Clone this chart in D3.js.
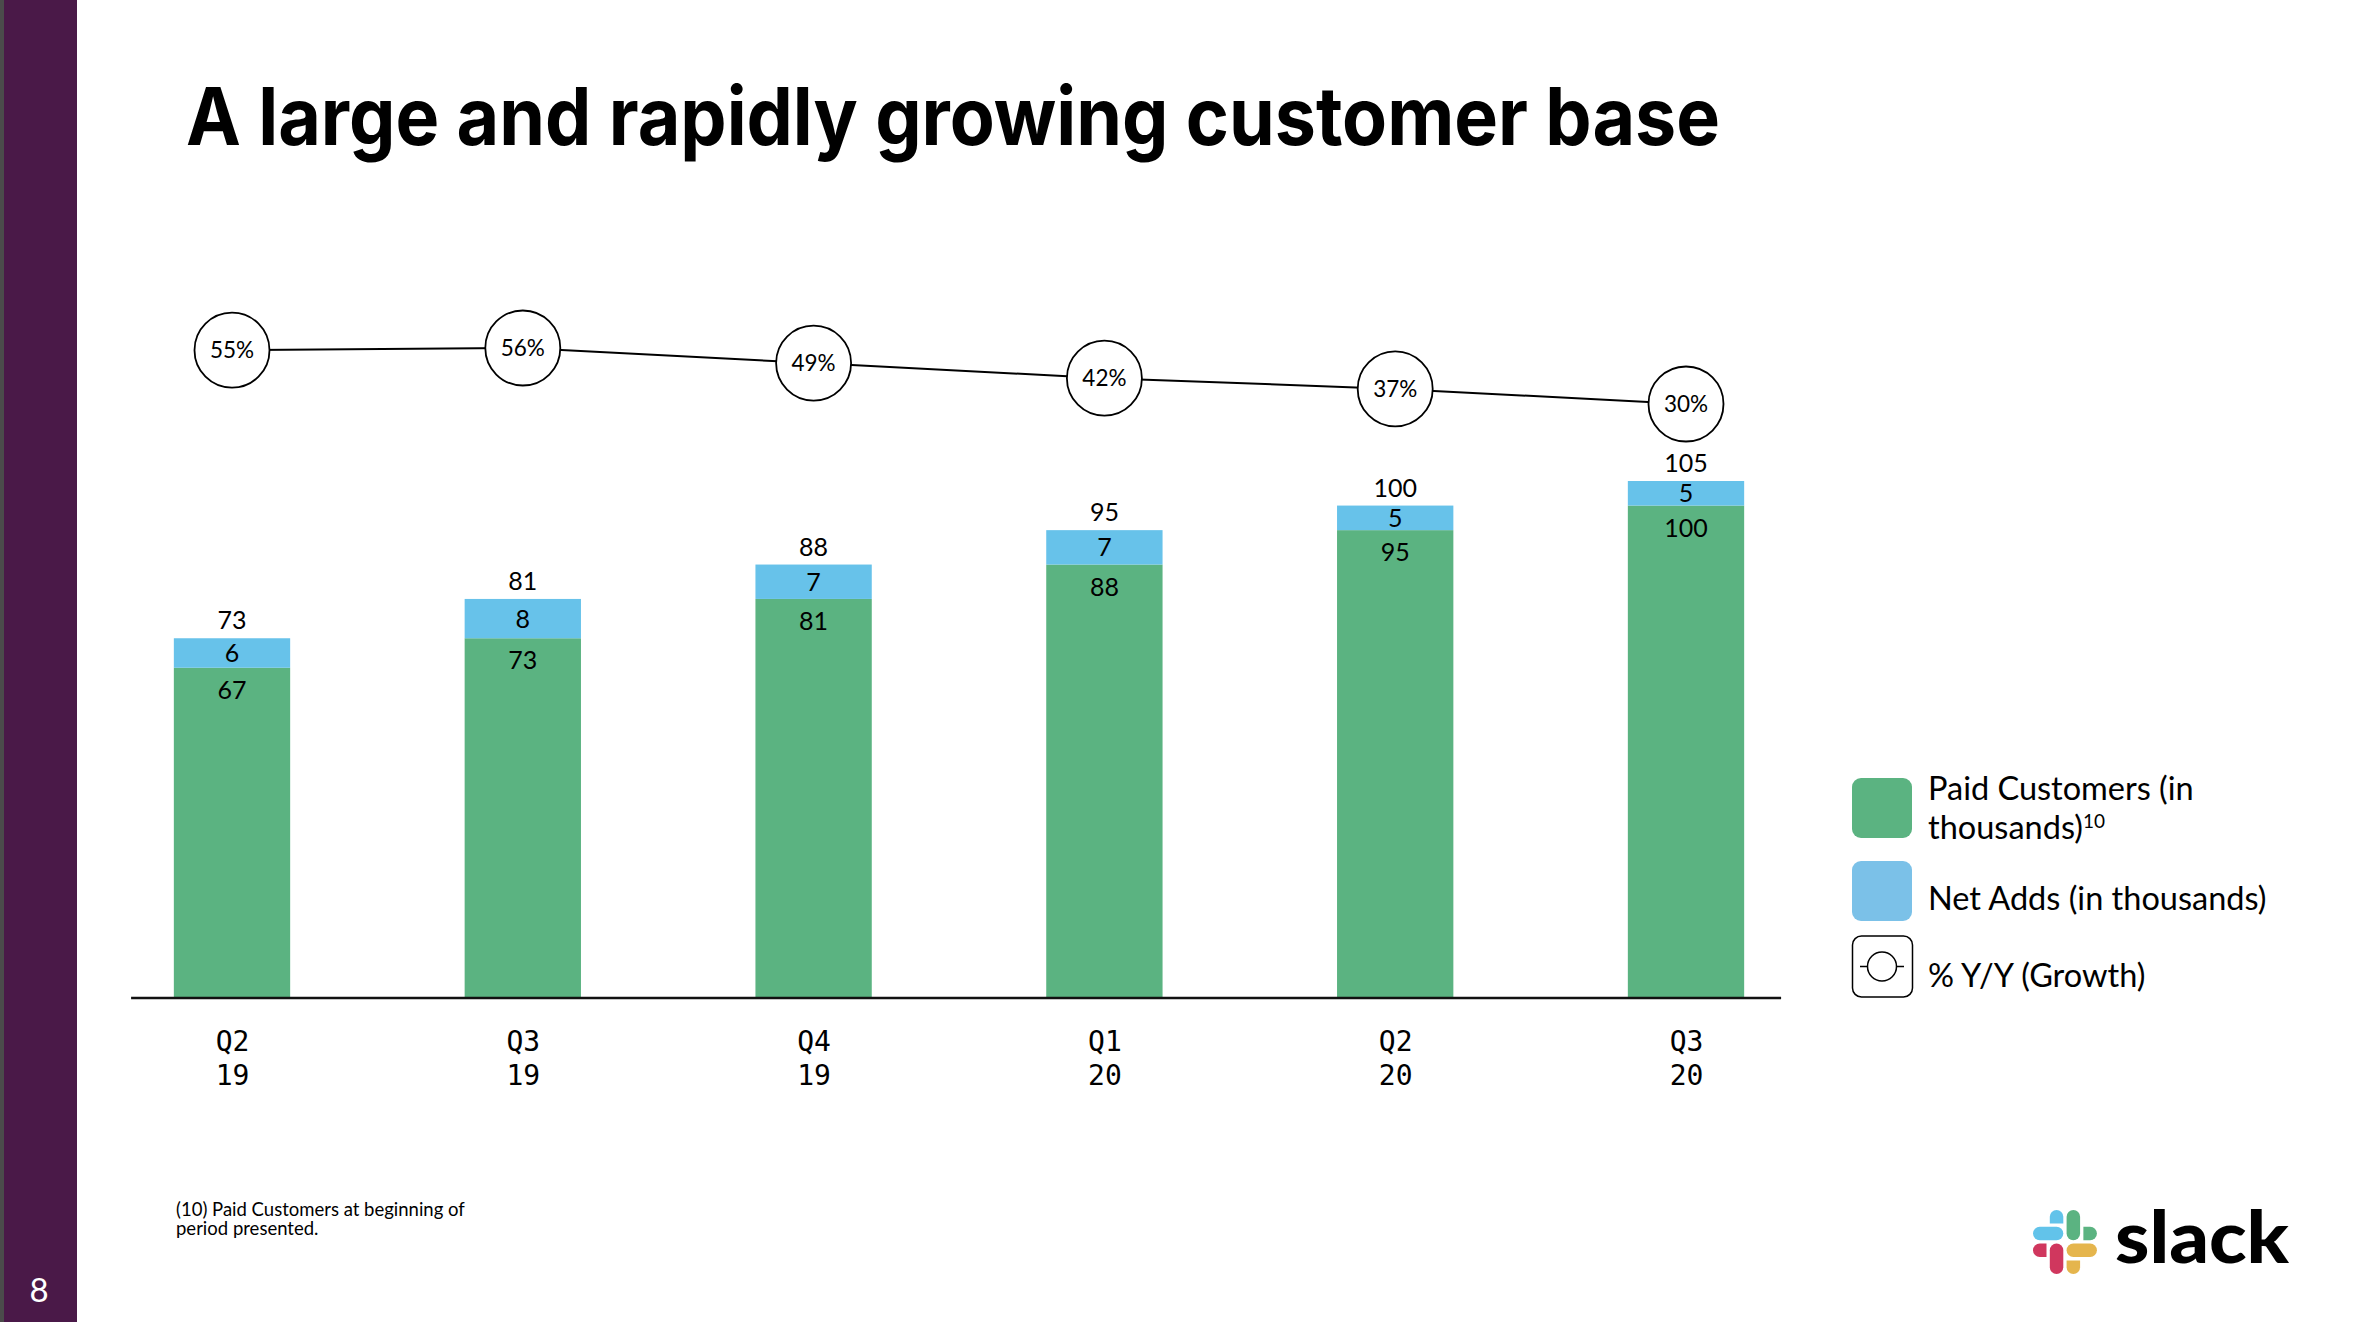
<!DOCTYPE html>
<html>
<head>
<meta charset="utf-8">
<script src="https://cdn.jsdelivr.net/npm/d3@7"></script>
<style>
body { margin: 0; background: #fff; }
svg { display: block; }
</style>
</head>
<body>
<div id="chart"></div>
<script>
// values
const quarters = ["Q2 19", "Q3 19", "Q4 19", "Q1 20", "Q2 20", "Q3 20"];
const paidCustomers = [67, 73, 81, 88, 95, 100];
const netAdds = [6, 8, 7, 7, 5, 5];
const totals = [73, 81, 88, 95, 100, 105];
const growth = [55, 56, 49, 42, 37, 30];

const legendItems = ["Paid Customers (in", "Net Adds (in thousands)", "% Y/Y (Growth)"];

const W = 2358, H = 1322;
const green = "#5bb381", blue = "#67c2ea";
const font = "Lato, 'Noto Sans', sans-serif";

const rows = quarters.map((q, i) => ({
    q, paid: paidCustomers[i], adds: netAdds[i], total: totals[i], growth: growth[i]
}));

const svg = d3.select("#chart")
    .append("svg")
    .attr("width", W)
    .attr("height", H);

// side band
svg.append("rect").attr("x", 0).attr("y", 0).attr("width", 77).attr("height", H).attr("fill", "#4a1948");
svg.append("rect").attr("x", 0).attr("y", 0).attr("width", 4).attr("height", H).attr("fill", "#4b4b4b");
svg.append("text")
    .attr("x", 39).attr("y", 1302)
    .attr("text-anchor", "middle")
    .style("font-family", font).style("font-size", "33px").style("fill", "#fff")
    .text("8");

// title
svg.append("text")
    .attr("x", 186).attr("y", 145)
    .attr("textLength", 1534).attr("lengthAdjust", "spacingAndGlyphs")
    .style("font-family", "Inter, 'Liberation Sans', sans-serif")
    .style("font-weight", "700").style("font-size", "80px").style("fill", "#000")
    .text("A large and rapidly growing customer base");

// scales
const x = d3.scalePoint().domain(quarters).range([232, 1686]);
const bw = x.step() * 0.4;
const y = d3.scaleLinear().domain([0, 105]).range([997, 481]);
const g = d3.scaleLinear().domain([30, 56]).range([404, 348]);

// bars
svg.selectAll(".paid")
    .data(rows)
    .enter()
    .append("rect")
    .attr("class", "paid")
    .attr("x", d => x(d.q) - bw / 2)
    .attr("y", d => y(d.paid))
    .attr("width", bw)
    .attr("height", d => y(0) - y(d.paid))
    .style("fill", green);

svg.selectAll(".adds")
    .data(rows)
    .enter()
    .append("rect")
    .attr("class", "adds")
    .attr("x", d => x(d.q) - bw / 2)
    .attr("y", d => y(d.paid + d.adds))
    .attr("width", bw)
    .attr("height", d => y(d.paid) - y(d.paid + d.adds))
    .style("fill", blue);

// labels
const lbl = sel => sel
    .attr("text-anchor", "middle")
    .style("font-family", font).style("font-size", "25px").style("fill", "#000");

svg.selectAll(".total-label")
    .data(rows).enter().append("text")
    .attr("x", d => x(d.q))
    .attr("y", d => y(d.paid + d.adds) - 9)
    .call(lbl)
    .text(d => d.total);

svg.selectAll(".adds-label")
    .data(rows).enter().append("text")
    .attr("x", d => x(d.q))
    .attr("y", d => (y(d.paid) + y(d.paid + d.adds)) / 2 + 9)
    .call(lbl)
    .text(d => d.adds);

svg.selectAll(".paid-label")
    .data(rows).enter().append("text")
    .attr("x", d => x(d.q))
    .attr("y", d => y(d.paid) + 31)
    .call(lbl)
    .text(d => d.paid);

// x axis
const xAxis = d3.axisBottom(x).tickSize(0).tickSizeOuter(0);
const ax = svg.append("g")
    .attr("transform", "translate(0," + y(0) + ")")
    .call(xAxis);
ax.select(".domain").remove();
ax.selectAll(".tick text")
    .attr("dy", null).attr("y", null)
    .style("font-family", "'DejaVu Sans Mono', monospace")
    .style("font-size", "28px").style("fill", "#000")
    .each(function (d) {
        const parts = d.split(" ");
        const t = d3.select(this).text(null);
        t.append("tspan").attr("x", 0).attr("y", 54).text(parts[0]);
        t.append("tspan").attr("x", 0).attr("y", 88).text(parts[1]);
    });

svg.append("line")
    .attr("x1", x(quarters[0]) - x.step() * 0.347)
    .attr("x2", x(quarters[quarters.length - 1]) + x.step() * 0.327)
    .attr("y1", y(0) + 1).attr("y2", y(0) + 1)
    .style("stroke", "#111").style("stroke-width", 2.5);

// growth line with circles
const line = d3.line().x(d => x(d.q)).y(d => g(d.growth));
svg.append("path")
    .datum(rows)
    .attr("d", line)
    .style("fill", "none").style("stroke", "#000").style("stroke-width", 2);

svg.selectAll(".bubble")
    .data(rows).enter().append("circle")
    .attr("cx", d => x(d.q)).attr("cy", d => g(d.growth)).attr("r", 37.5)
    .style("fill", "#fff").style("stroke", "#000").style("stroke-width", 1.8);

svg.selectAll(".bubble-label")
    .data(rows).enter().append("text")
    .attr("x", d => x(d.q)).attr("y", d => g(d.growth) + 8)
    .attr("text-anchor", "middle")
    .style("font-family", font).style("font-size", "22.5px").style("fill", "#000")
    .text(d => d.growth + "%");

// legend
const lg = svg.append("g").attr("transform", "translate(1852,778)");
lg.append("rect").attr("x", 0).attr("y", 0).attr("width", 60).attr("height", 60).attr("rx", 9).style("fill", green);
lg.append("rect").attr("x", 0).attr("y", 83).attr("width", 60).attr("height", 60).attr("rx", 9).style("fill", "#7bc1e8");
lg.append("rect").attr("x", 0.5).attr("y", 158).attr("width", 60).attr("height", 61).attr("rx", 9)
    .style("fill", "#fff").style("stroke", "#000").style("stroke-width", 1.5);
lg.append("line").attr("x1", 8).attr("x2", 52).attr("y1", 188.5).attr("y2", 188.5)
    .style("stroke", "#000").style("stroke-width", 1.5);
lg.append("circle").attr("cx", 30).attr("cy", 188.5).attr("r", 14.5)
    .style("fill", "#fff").style("stroke", "#000").style("stroke-width", 1.5);

const legText = sel => sel.style("font-family", font).style("font-size", "32.5px").style("fill", "#000");
lg.append("text").attr("x", 76).attr("y", 22).call(legText).text(legendItems[0]);
const l2 = lg.append("text").attr("x", 76).attr("y", 61).call(legText);
l2.append("tspan").text("thousands)");
l2.append("tspan").attr("dy", -11).style("font-size", "19px").text("10");
lg.append("text").attr("x", 76).attr("y", 132).call(legText).text(legendItems[1]);
lg.append("text").attr("x", 76).attr("y", 209).call(legText).text(legendItems[2]);

// footnote
const fn = svg.append("text")
    .style("font-family", font).style("font-size", "18.5px").style("fill", "#000");
fn.append("tspan").attr("x", 176).attr("y", 1216).text("(10) Paid Customers at beginning of");
fn.append("tspan").attr("x", 176).attr("y", 1235).text("period presented.");

// slack logo
const logo = svg.append("g").attr("transform", "translate(2033,1210)");
const t = 13.5, r = t / 2, c1 = 16.8, c2 = 33.6, c3 = 50.4, L = c1 + t;
logo.append("rect").attr("x", 0).attr("y", c1).attr("width", L).attr("height", t).attr("rx", r).style("fill", "#62c3ea");
logo.append("path").attr("d", `M${c1},${t} V${r} A${r},${r} 0 0 1 ${c1 + t},${r} V${t} Z`).style("fill", "#62c3ea");
logo.append("rect").attr("x", c2).attr("y", 0).attr("width", t).attr("height", L).attr("rx", r).style("fill", "#5bb381");
logo.append("path").attr("d", `M${c3},${c1} H${c3 + r} A${r},${r} 0 0 1 ${c3 + r},${c1 + t} H${c3} Z`).style("fill", "#5bb381");
logo.append("path").attr("d", `M${t},${c2} H${r} A${r},${r} 0 0 0 ${r},${c2 + t} H${t} Z`).style("fill", "#d0375e");
logo.append("rect").attr("x", c1).attr("y", c2).attr("width", t).attr("height", L).attr("rx", r).style("fill", "#d0375e");
logo.append("rect").attr("x", c2).attr("y", c2).attr("width", L).attr("height", t).attr("rx", r).style("fill", "#e5b54d");
logo.append("path").attr("d", `M${c2},${c3} V${c3 + r} A${r},${r} 0 0 0 ${c2 + t},${c3 + r} V${c3} Z`).style("fill", "#e5b54d");

svg.append("text")
    .attr("x", 2115).attr("y", 1263)
    .attr("textLength", 174).attr("lengthAdjust", "spacingAndGlyphs")
    .style("font-family", "Lato, sans-serif").style("font-weight", "900")
    .style("font-size", "72px").style("fill", "#000")
    .text("slack");
</script>
</body>
</html>
